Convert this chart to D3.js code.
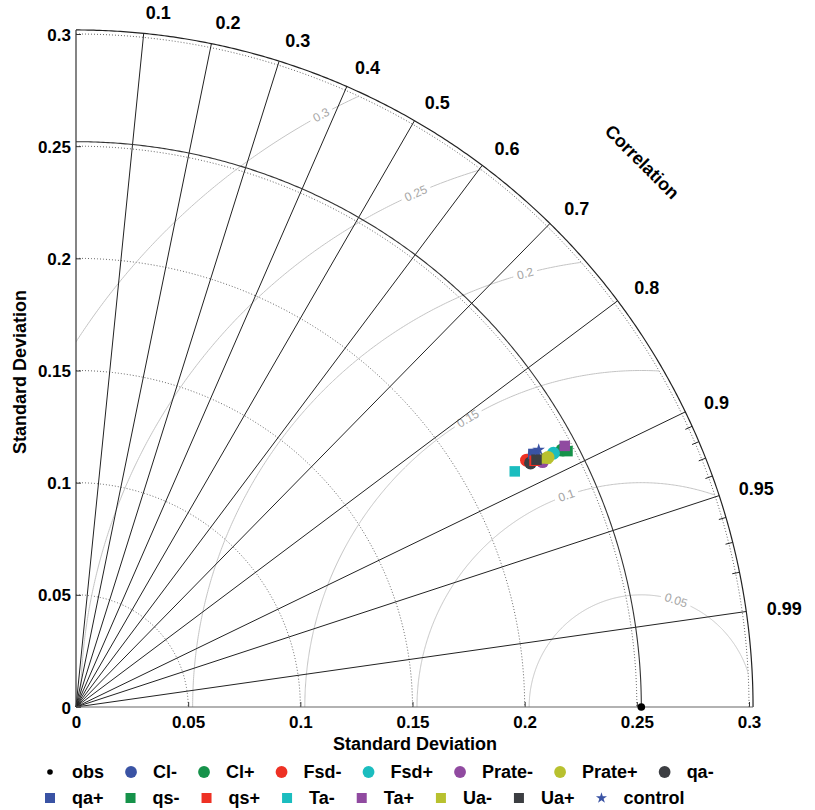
<!DOCTYPE html>
<html>
<head>
<meta charset="utf-8">
<script src="https://cdn.jsdelivr.net/npm/d3@7"></script>
<style>
  body { margin: 0; background: #fff; }
  svg { display: block; }
  text { font-family: "Liberation Sans", Arial, Helvetica, sans-serif; }
</style>
</head>
<body>
<svg id="chart" width="815" height="810"></svg>
<script>
// Taylor diagram: standard deviation (radius) vs correlation (angle)

const modelNames = ["obs", "Cl-", "Cl+", "Fsd-", "Fsd+", "Prate-", "Prate+", "qa-",
                    "qa+", "qs-", "qs+", "Ta-", "Ta+", "Ua-", "Ua+", "control"];
const stdValues  = [0.252, 0.233, 0.245, 0.229, 0.241, 0.235, 0.238, 0.230,
                    0.233, 0.247, 0.232, 0.222, 0.247, 0.237, 0.233, 0.236];
const corrValues = [1.000, 0.876, 0.884, 0.877, 0.883, 0.885, 0.884, 0.881,
                    0.875, 0.887, 0.881, 0.881, 0.882, 0.884, 0.881, 0.874];
const markerShapes = ["dot", "circle", "circle", "circle", "circle", "circle", "circle", "circle",
                      "square", "square", "square", "square", "square", "square", "square", "star"];
const markerColors = ["#000000", "#3a53a4", "#16924a", "#ee3124", "#1bbdbf", "#904aa0", "#b8c12f", "#3c3e42",
                      "#3a53a4", "#16924a", "#ee3124", "#1bbdbf", "#904aa0", "#b8c12f", "#3c3e42", "#3a53a4"];

const corrTicks = [0.1, 0.2, 0.3, 0.4, 0.5, 0.6, 0.7, 0.8, 0.9, 0.95, 0.99];
const corrMinorTicks = [0.91, 0.92, 0.93, 0.94, 0.96, 0.97, 0.98];
const stdTicks = [0, 0.05, 0.1, 0.15, 0.2, 0.25, 0.3];
const stdTickLabels = ["0", "0.05", "0.1", "0.15", "0.2", "0.25", "0.3"];
const rmsLevels = [0.05, 0.1, 0.15, 0.2, 0.25, 0.3];
const rmsLabels = ["0.05", "0.1", "0.15", "0.2", "0.25", "0.3"];
const rmsLabelAngles = [72, 109.5, 121, 105, 113.7, 118.4]; // degrees, measured around obs point

const legendRows = [modelNames.slice(0, 8), modelNames.slice(8)];

// ---- layout ----
const svg = d3.select("#chart");
const origin = { x: 76, y: 707 };
const stdMax = 0.3;
const axisLimit = 0.3018;
const rs = d3.scaleLinear().domain([0, stdMax]).range([0, 673]);
const ys = d3.scaleLinear().domain([0, stdMax]).range([0, -673]);

const g = svg.append("g").attr("transform", `translate(${origin.x},${origin.y})`);

const px = (s, c) => rs(s * c);
const py = (s, c) => -rs(s * Math.sqrt(Math.max(0, 1 - c * c)));

const radial = d3.lineRadial();
function quarterArc(radius) {
  return radial(d3.range(0, 361).map(i => [i / 360 * Math.PI / 2, rs(radius)]));
}

// clip region for RMS contours
svg.append("defs").append("clipPath").attr("id", "quarter")
  .append("path")
  .attr("d", `M0,0 L${rs(stdMax)},0 A${rs(stdMax)},${rs(stdMax)} 0 0 0 0,${-rs(stdMax)} Z`);

// ---- dotted std arcs ----
g.append("g").selectAll("path")
  .data(stdTicks.filter(d => d > 0))
  .join("path")
  .attr("d", d => quarterArc(d))
  .attr("fill", "none")
  .attr("stroke", "#555")
  .attr("stroke-width", 0.9)
  .attr("stroke-dasharray", "1,2");

// ---- RMS difference contours (around obs) ----
const obsStd = stdValues[0];
const obsX = rs(obsStd);
const rmsG = g.append("g");
const rmsLabelG = g.append("g");
rmsLevels.forEach((lev, i) => {
  const t0 = rmsLabelAngles[i] * Math.PI / 180;
  const R = rs(lev);
  const lx = obsX + R * Math.cos(t0), ly = -R * Math.sin(t0);
  const label = rmsLabelG.append("text")
    .attr("transform", `translate(${lx},${ly}) rotate(${-(rmsLabelAngles[i] - 90)})`)
    .attr("text-anchor", "middle")
    .attr("dominant-baseline", "central")
    .attr("font-size", 12)
    .attr("fill", "#a6a6a6")
    .text(rmsLabels[i]);
  const w = label.node().getComputedTextLength();
  const gap = (w / 2 + 4) / R;
  const segs = [[0, t0 - gap], [t0 + gap, Math.PI]];
  segs.forEach(([a, b]) => {
    const pts = d3.range(0, 301).map(k => a + (b - a) * k / 300)
      .map(t => [obsX + R * Math.cos(t), -R * Math.sin(t)]);
    rmsG.append("path")
      .attr("d", d3.line()(pts))
      .attr("clip-path", "url(#quarter)")
      .attr("fill", "none")
      .attr("stroke", "#c4c4c4")
      .attr("stroke-width", 1);
  });
});

// ---- correlation rays ----
g.append("g").selectAll("line")
  .data(corrTicks)
  .join("line")
  .attr("x1", 0).attr("y1", 0)
  .attr("x2", d => px(axisLimit, d))
  .attr("y2", d => py(axisLimit, d))
  .attr("stroke", "#222")
  .attr("stroke-width", 1);

// minor correlation ticks on the outer arc
g.append("g").selectAll("line")
  .data(corrMinorTicks)
  .join("line")
  .attr("x1", d => px(0.2985, d)).attr("y1", d => py(0.2985, d))
  .attr("x2", d => px(axisLimit, d)).attr("y2", d => py(axisLimit, d))
  .attr("stroke", "#222")
  .attr("stroke-width", 1);

// ---- solid arcs: outer limit and observed std ----
g.append("path").attr("d", quarterArc(axisLimit))
  .attr("fill", "none").attr("stroke", "#222").attr("stroke-width", 1.2);
g.append("path").attr("d", quarterArc(obsStd))
  .attr("fill", "none").attr("stroke", "#333").attr("stroke-width", 1.1);

// ---- axes ----
const xAxis = d3.axisBottom(rs).tickValues(stdTicks)
  .tickFormat((d, i) => stdTickLabels[i]).tickSizeInner(-5).tickSizeOuter(0).tickPadding(9);
const yAxis = d3.axisLeft(ys).tickValues(stdTicks)
  .tickFormat((d, i) => stdTickLabels[i]).tickSizeInner(-5).tickSizeOuter(0).tickPadding(5);

const xg = g.append("g").call(xAxis);
const yg = g.append("g").call(yAxis);
[xg, yg].forEach(a => {
  a.select(".domain").remove();
  a.selectAll(".tick line").attr("stroke", "#333");
  a.selectAll(".tick text")
    .attr("font-family", "Liberation Sans, Arial, sans-serif")
    .attr("font-weight", "bold")
    .attr("font-size", 17)
    .attr("fill", "#000");
});
yg.selectAll(".tick text").attr("dy", "0.36em");

g.append("line").attr("x1", 0).attr("y1", 0).attr("x2", rs(axisLimit)).attr("y2", 0)
  .attr("stroke", "#666").attr("stroke-width", 1.2);
g.append("line").attr("x1", 0).attr("y1", 0).attr("x2", 0).attr("y2", ys(axisLimit))
  .attr("stroke", "#333").attr("stroke-width", 1.2);

// correlation tick labels
g.append("g").selectAll("text")
  .data(corrTicks)
  .join("text")
  .attr("x", d => px(0.311, d))
  .attr("y", d => py(0.311, d))
  .attr("dominant-baseline", "central")
  .attr("font-weight", "bold")
  .attr("font-size", 18)
  .text(d => d);

// axis titles
svg.append("text")
  .attr("x", 415).attr("y", 744)
  .attr("text-anchor", "middle").attr("dominant-baseline", "central")
  .attr("font-weight", "bold").attr("font-size", 18)
  .text("Standard Deviation");
svg.append("text")
  .attr("transform", "translate(20,372) rotate(-90)")
  .attr("text-anchor", "middle").attr("dominant-baseline", "central")
  .attr("font-weight", "bold").attr("font-size", 18)
  .text("Standard Deviation");
svg.append("text")
  .attr("transform", "translate(642,162) rotate(45)")
  .attr("text-anchor", "middle").attr("dominant-baseline", "central")
  .attr("font-weight", "bold").attr("font-size", 18)
  .text("Correlation");

// ---- markers ----
function drawMarker(sel, shape, color, big) {
  if (shape === "dot") {
    sel.append("circle").attr("r", big ? 3.8 : 2.8).attr("fill", color);
  } else if (shape === "circle") {
    sel.append("circle").attr("r", big ? 6.5 : 5.9).attr("fill", color);
  } else if (shape === "square") {
    const s = big ? 10.5 : 10;
    sel.append("rect").attr("x", -s / 2).attr("y", -s / 2).attr("width", s).attr("height", s).attr("fill", color);
  } else if (shape === "star") {
    sel.append("path").attr("d", d3.symbol(d3.symbolStar, big ? 48 : 38)()).attr("fill", color);
  }
}

const pointsG = g.append("g");
modelNames.forEach((name, i) => {
  const m = pointsG.append("g")
    .attr("transform", `translate(${px(stdValues[i], corrValues[i])},${py(stdValues[i], corrValues[i])})`);
  drawMarker(m, markerShapes[i], markerColors[i], true);
});

// ---- legend ----
const legendY = [772, 798];
legendRows.forEach((row, r) => {
  let x = 50;
  row.forEach(name => {
    const i = modelNames.indexOf(name);
    const item = svg.append("g").attr("transform", `translate(${x},${legendY[r]})`);
    drawMarker(item, markerShapes[i], markerColors[i], false);
    const t = item.append("text")
      .attr("x", 22).attr("y", 0)
      .attr("dominant-baseline", "central")
      .attr("font-weight", "bold").attr("font-size", 18)
      .text(name);
    x += 22 + t.node().getComputedTextLength() + 27;
  });
});
</script>
</body>
</html>
